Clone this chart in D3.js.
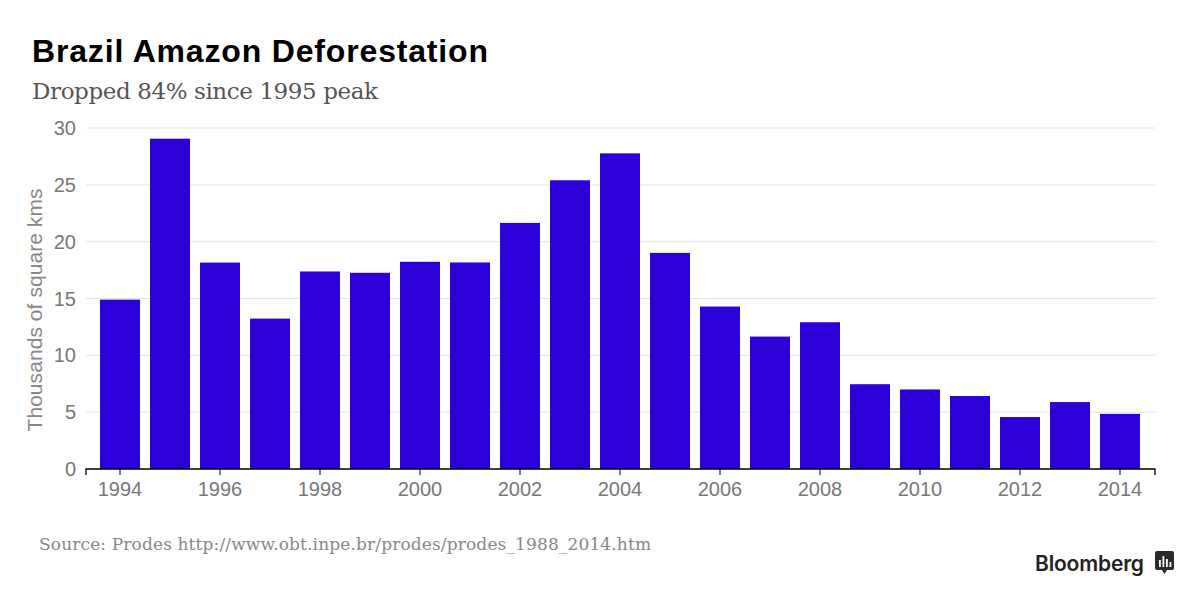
<!DOCTYPE html>
<html>
<head>
<meta charset="utf-8">
<script src="https://cdn.jsdelivr.net/npm/d3@7"></script>
<style>
    body { margin: 0; background: #fff; }
    svg { display: block; }
</style>
</head>
<body>
<div id="chart"></div>
<script>
// deforestation, thousands of km2 (PRODES)
const years = ["1994", "1995", "1996", "1997", "1998", "1999", "2000", "2001", "2002", "2003", "2004",
    "2005", "2006", "2007", "2008", "2009", "2010", "2011", "2012", "2013", "2014"]
const values = [14.9, 29.06, 18.16, 13.23, 17.38, 17.26, 18.23, 18.17, 21.65, 25.4, 27.77,
    19.01, 14.29, 11.65, 12.91, 7.46, 7.0, 6.42, 4.57, 5.89, 4.85]
const yTicks = [0, 5, 10, 15, 20, 25, 30]
const xTickYears = ["1994", "1996", "1998", "2000", "2002", "2004", "2006", "2008", "2010", "2012", "2014"]

const width = 1200
const height = 601
const margin = { left: 86, right: 1155, top: 128, bottom: 469 }
const barColor = "#2b00d9"
const sans = "'Liberation Sans', Arial, sans-serif"
const serif = "'DejaVu Serif', 'Liberation Serif', serif"

const svg = d3.select("#chart")
    .append("svg")
    .attr("width", width)
    .attr("height", height)

const xScale = d3.scaleBand()
    .domain(years)
    .range([95, 1145])
    .paddingInner(0.2)
    .paddingOuter(0.1)

const yScale = d3.scaleLinear()
    .domain([0, 30])
    .range([margin.bottom, margin.top])

// gridlines
svg.append("g")
    .selectAll("line")
    .data(yTicks.filter(d => d > 0))
    .enter()
    .append("line")
    .attr("x1", margin.left)
    .attr("x2", margin.right)
    .attr("y1", d => yScale(d))
    .attr("y2", d => yScale(d))
    .attr("stroke", "#e4e4e4")
    .attr("stroke-width", 1)

// y labels
svg.append("g")
    .selectAll("text")
    .data(yTicks)
    .enter()
    .append("text")
    .attr("x", 76)
    .attr("y", d => yScale(d) + 7)
    .attr("text-anchor", "end")
    .attr("font-family", sans)
    .attr("font-size", 20)
    .attr("fill", "#777")
    .text(d => d)

// bars
svg.append("g")
    .selectAll("rect")
    .data(years)
    .enter()
    .append("rect")
    .attr("x", d => xScale(d))
    .attr("y", (d, i) => yScale(values[i]))
    .attr("width", xScale.bandwidth())
    .attr("height", (d, i) => yScale(0) - yScale(values[i]))
    .attr("fill", barColor)

// x axis
const bottomAxis = d3.axisBottom(xScale)
    .tickValues(xTickYears)
    .tickSize(6)
    .tickPadding(7)
    .tickSizeOuter(0)

const axisG = svg.append("g")
    .attr("transform", `translate(0,${margin.bottom})`)
    .call(bottomAxis)

axisG.select(".domain").remove()
axisG.selectAll(".tick line").attr("stroke", "#000")
axisG.selectAll(".tick text")
    .attr("font-family", sans)
    .attr("font-size", 20)
    .attr("fill", "#777")

axisG.append("path")
    .attr("d", `M${margin.left},6V0H${margin.right}V6`)
    .attr("fill", "none")
    .attr("stroke", "#000")
    .attr("stroke-width", 1.3)

// y-axis label
svg.append("text")
    .attr("transform", `translate(42, 310) rotate(-90)`)
    .attr("text-anchor", "middle")
    .attr("font-family", sans)
    .attr("font-size", 21)
    .attr("fill", "#888")
    .attr("textLength", 243)
    .text("Thousands of square kms")

// titles
svg.append("text")
    .attr("x", 32)
    .attr("y", 62)
    .attr("font-family", sans)
    .attr("font-weight", "bold")
    .attr("font-size", 32)
    .attr("fill", "#000")
    .attr("textLength", 456)
    .text("Brazil Amazon Deforestation")

svg.append("text")
    .attr("x", 32)
    .attr("y", 99)
    .attr("font-family", serif)
    .attr("font-size", 23)
    .attr("fill", "#555")
    .attr("textLength", 346)
    .text("Dropped 84% since 1995 peak")

svg.append("text")
    .attr("x", 39)
    .attr("y", 550)
    .attr("font-family", serif)
    .attr("font-size", 17)
    .attr("fill", "#888")
    .attr("textLength", 612)
    .text("Source: Prodes http://www.obt.inpe.br/prodes/prodes_1988_2014.htm")

// Bloomberg logo
svg.append("text")
    .attr("x", 1035)
    .attr("y", 571)
    .attr("font-family", "Inter, 'Liberation Sans', sans-serif")
    .attr("font-weight", 600)
    .attr("font-size", 21)
    .attr("fill", "#222")
    .attr("textLength", 109)
    .text("Bloomberg")

const logo = svg.append("g").attr("transform", "translate(1155,551)")
logo.append("path")
    .attr("d", "M2,0H17Q19,0 19,2V17Q19,19 17,19H12L9.5,23L7,19H2Q0,19 0,17V2Q0,0 2,0Z")
    .attr("fill", "#2a2a2a")
logo.selectAll("rect")
    .data([[4, 9], [7.5, 5], [11, 8], [14.5, 11]])
    .enter()
    .append("rect")
    .attr("x", d => d[0])
    .attr("y", d => d[1])
    .attr("width", 1.8)
    .attr("height", d => 16 - d[1])
    .attr("fill", "#fff")
</script>
</body>
</html>
